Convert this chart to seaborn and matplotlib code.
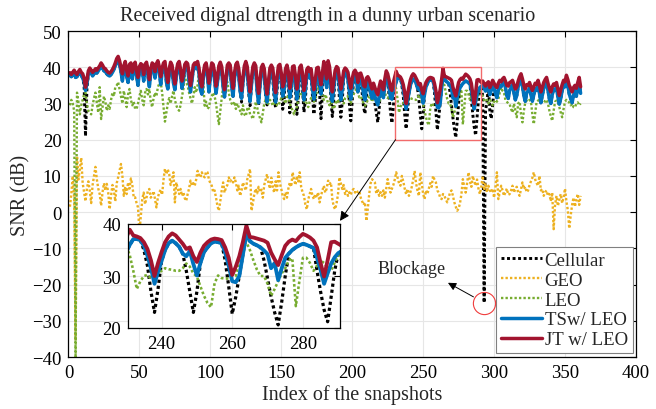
import numpy as np
import pandas as pd
import matplotlib
matplotlib.use("Agg")
import matplotlib.pyplot as plt
import seaborn as sns

# ---------------- data (snapshot index 1..361) ----------------
jt_leo = [
    38.5, 38.0, 38.6, 39.2, 38.4, 38.0, 38.8, 39.4, 38.6, 38.2,
    37.0, 34.5, 36.5, 39.0, 39.8, 39.2, 38.6, 39.0, 39.6, 39.2,
    39.8, 40.4, 41.2, 40.6, 39.8, 39.6, 39.0, 38.6, 38.4, 38.8,
    39.4, 40.2, 41.2, 42.4, 43.0, 41.8, 40.0, 38.2, 40.4, 41.6,
    39.2, 37.6, 40.8, 41.2, 38.6, 40.6, 41.4, 39.0, 37.2, 40.2,
    41.0, 40.6, 38.0, 40.8, 41.4, 39.4, 36.6, 39.6, 41.2, 40.8,
    38.8, 41.0, 41.8, 40.2, 37.4, 39.8, 41.2, 41.6, 38.0, 35.8,
    39.6, 41.4, 40.6, 37.8, 35.4, 38.8, 41.0, 41.6, 39.4, 36.2,
    38.0, 40.8, 41.4, 41.0, 38.2, 35.0, 37.6, 40.6, 41.2, 40.8,
    41.6, 39.8, 36.0, 34.6, 38.2, 40.6, 41.2, 39.0, 35.6, 38.8,
    41.2, 40.8, 38.6, 34.8, 37.2, 40.4, 41.4, 40.2, 36.8, 33.8,
    37.0, 40.6, 41.2, 40.6, 37.0, 34.2, 38.4, 40.8, 41.4, 39.6,
    35.8, 33.6, 37.4, 40.4, 41.6, 40.2, 36.4, 33.2, 37.0, 40.2,
    41.2, 40.4, 35.8, 32.8, 36.6, 40.0, 40.8, 39.6, 35.4, 32.6,
    36.2, 39.8, 40.6, 39.8, 35.8, 33.0, 37.2, 40.4, 40.8, 38.4,
    34.6, 35.8, 39.6, 40.6, 38.8, 34.2, 36.4, 40.2, 40.4, 37.6,
    34.0, 36.8, 40.0, 40.6, 38.2, 33.6, 35.8, 39.4, 40.0, 38.8,
    39.6, 36.2, 33.8, 36.6, 39.8, 40.0, 37.8, 35.2, 38.4, 41.6,
    39.0, 36.8, 41.8, 40.2, 36.0, 33.2, 36.4, 39.2, 40.2, 39.8,
    37.0, 34.0, 36.2, 39.0, 39.8, 39.4, 38.6, 36.0, 34.2, 36.8,
    38.6, 39.2, 38.4, 35.8, 38.2, 38.4, 37.2, 35.0, 34.6, 37.0,
    37.4, 36.6, 35.2, 34.0, 35.6, 34.4, 33.2, 32.4, 34.6, 36.2,
    35.2, 33.8, 36.8, 39.0, 38.2, 36.4, 34.2, 33.6, 35.8, 37.4,
    38.9, 37.8, 37.6, 37.3, 36.5, 35.2, 33.0, 30.0, 32.5, 34.6,
    36.5, 37.6, 38.2, 37.8, 37.0, 36.2, 35.2, 35.5, 33.8, 32.7,
    34.5, 35.8, 36.5, 37.0, 37.2, 37.1, 36.9, 35.5, 33.5, 30.2,
    31.8, 33.8, 36.5, 39.7, 37.5, 37.4, 37.2, 37.0, 36.8, 36.4,
    34.5, 33.2, 32.1, 34.0, 35.8, 36.6, 37.0, 36.7, 37.5, 38.1,
    37.8, 37.4, 36.8, 35.5, 32.5, 29.9, 33.0, 36.5, 36.6, 36.2,
    35.8, 36.2, 35.4, 34.8, 35.6, 36.0, 34.4, 35.2, 36.4, 35.6,
    34.8, 34.4, 35.6, 36.4, 36.0, 36.8, 37.2, 36.2, 35.0, 34.8,
    35.8, 36.0, 36.4, 35.2, 34.0, 34.6, 36.2, 37.4, 38.2, 36.8,
    35.0, 34.0, 35.2, 35.0, 35.8, 34.6, 33.6, 34.6, 35.6, 35.2,
    36.4, 35.0, 33.2, 34.4, 35.8, 36.6, 37.2, 35.6, 34.2, 33.2,
    34.6, 35.4, 35.0, 35.8, 34.0, 32.2, 33.8, 35.2, 36.4, 36.0,
    37.8, 36.6, 35.0, 34.2, 33.2, 34.4, 35.0, 34.2, 35.8, 37.2, 34.6,
]

ts_leo = [
    37.8, 37.4, 38.0, 38.4, 37.2, 37.4, 38.2, 38.6, 37.8, 37.0,
    36.0, 33.6, 35.4, 38.2, 39.0, 38.4, 37.6, 38.2, 38.8, 38.4,
    39.0, 39.6, 40.2, 39.8, 39.0, 38.8, 38.2, 37.8, 37.6, 38.0,
    38.6, 39.4, 40.4, 41.4, 42.0, 40.8, 38.8, 36.2, 39.2, 40.6,
    37.6, 35.8, 39.8, 40.2, 36.8, 39.4, 40.4, 37.6, 35.0, 39.0,
    40.0, 39.4, 36.2, 39.8, 40.4, 37.8, 34.6, 38.4, 40.2, 39.6,
    37.0, 39.8, 40.8, 38.8, 35.2, 38.6, 40.2, 40.4, 36.0, 34.0,
    38.2, 40.4, 39.4, 35.6, 33.8, 37.4, 40.0, 40.6, 37.8, 34.2,
    36.6, 39.8, 40.4, 39.8, 36.2, 33.2, 36.2, 39.4, 40.2, 39.6,
    40.6, 38.2, 33.8, 32.6, 36.8, 39.6, 40.2, 37.4, 33.2, 37.2,
    40.2, 39.6, 36.4, 32.8, 35.8, 39.4, 40.4, 38.8, 34.6, 31.8,
    35.6, 39.4, 40.2, 39.2, 34.8, 32.0, 36.8, 39.8, 40.2, 37.6,
    33.4, 31.4, 35.8, 39.2, 40.4, 38.6, 34.0, 30.6, 35.2, 39.0,
    40.0, 38.8, 33.2, 30.2, 34.8, 38.8, 39.6, 37.8, 33.0, 30.4,
    34.4, 38.6, 39.4, 38.2, 33.4, 30.4, 35.4, 39.0, 39.6, 36.6,
    32.0, 33.8, 38.2, 39.4, 37.0, 31.6, 34.4, 38.8, 39.2, 35.6,
    31.2, 34.6, 38.6, 39.4, 36.4, 31.0, 33.8, 38.0, 38.8, 37.0,
    38.2, 34.0, 31.2, 34.6, 38.4, 38.8, 35.8, 32.6, 36.6, 40.2,
    37.2, 34.4, 40.4, 38.6, 33.6, 30.6, 34.2, 37.8, 39.0, 38.2,
    34.6, 31.0, 33.8, 37.6, 38.6, 38.0, 36.6, 33.4, 31.2, 34.6,
    37.0, 38.0, 36.6, 33.2, 36.4, 37.0, 35.4, 32.4, 31.0, 34.6,
    35.8, 34.6, 32.8, 31.4, 33.4, 32.0, 30.6, 29.6, 31.8, 34.6,
    33.0, 31.6, 35.0, 37.8, 37.0, 34.2, 31.6, 31.2, 33.8, 34.6,
    36.0, 37.1, 37.1, 36.9, 35.8, 33.9, 31.5, 28.5, 30.8, 32.9,
    35.0, 36.3, 36.8, 36.3, 35.6, 34.3, 33.8, 34.8, 32.3, 30.1,
    32.5, 34.6, 35.5, 36.3, 36.6, 36.5, 36.3, 34.5, 32.0, 29.0,
    28.8, 30.0, 34.0, 38.1, 36.7, 36.2, 35.9, 35.5, 34.9, 34.2,
    31.5, 32.5, 29.2, 31.5, 33.5, 34.3, 35.0, 35.5, 35.9, 36.2,
    36.0, 35.7, 35.4, 33.5, 31.2, 28.5, 30.5, 32.4, 33.6, 34.4,
    34.8, 35.0, 34.2, 33.4, 34.0, 34.8, 32.4, 33.6, 35.2, 34.2,
    32.8, 31.6, 33.8, 35.0, 34.6, 35.6, 36.0, 34.4, 32.2, 31.4,
    33.6, 34.4, 35.2, 33.0, 31.0, 32.2, 34.6, 36.0, 36.8, 34.8,
    32.2, 30.6, 33.0, 33.4, 34.4, 32.4, 30.6, 32.4, 34.0, 33.6,
    35.0, 32.8, 30.2, 32.2, 34.2, 35.2, 35.8, 33.6, 31.2, 30.0,
    32.4, 34.0, 33.6, 34.4, 31.8, 29.8, 31.4, 33.6, 35.0, 34.6,
    36.4, 35.0, 32.6, 31.4, 30.2, 32.2, 33.6, 32.0, 34.4, 35.8, 32.8,
]

cellular = [
    37.8, 37.4, 38.0, 38.4, 37.2, 37.4, 38.2, 38.6, 37.8, 37.0,
    35.0, 21.0, 34.0, 38.2, 39.0, 38.4, 37.6, 38.2, 38.8, 38.4,
    39.0, 39.6, 40.2, 39.8, 39.0, 38.8, 38.2, 37.8, 37.6, 38.0,
    38.6, 39.4, 40.4, 41.4, 42.0, 40.8, 38.8, 36.2, 39.2, 40.6,
    37.6, 35.8, 39.8, 40.2, 36.8, 39.4, 40.4, 37.6, 35.0, 39.0,
    40.0, 39.4, 36.2, 39.8, 40.4, 37.8, 34.6, 38.4, 40.2, 39.6,
    37.0, 39.8, 40.8, 38.8, 35.2, 38.6, 40.2, 40.4, 36.0, 34.0,
    38.2, 40.4, 39.4, 35.6, 33.8, 37.4, 40.0, 40.6, 37.8, 34.2,
    36.6, 39.8, 40.4, 39.8, 36.2, 33.2, 36.2, 39.4, 40.2, 39.6,
    40.6, 38.2, 33.8, 32.6, 36.8, 39.6, 40.2, 37.4, 33.2, 37.2,
    40.2, 39.6, 36.4, 32.8, 35.8, 39.4, 40.4, 38.8, 34.6, 31.8,
    35.6, 39.4, 40.2, 39.2, 34.8, 32.0, 36.8, 39.8, 40.2, 37.6,
    33.4, 30.4, 35.8, 39.2, 40.4, 38.6, 33.0, 29.4, 35.2, 39.0,
    40.0, 38.8, 33.0, 29.6, 34.8, 38.8, 39.6, 37.8, 32.0, 29.6,
    34.4, 38.6, 39.4, 37.0, 31.4, 28.8, 33.4, 39.0, 39.6, 35.0,
    28.4, 31.0, 38.2, 39.4, 35.0, 27.4, 32.0, 38.8, 39.2, 34.0,
    27.0, 31.5, 38.6, 39.4, 34.0, 27.6, 31.0, 38.0, 38.8, 37.0,
    38.2, 32.0, 27.0, 31.0, 38.4, 38.8, 33.0, 25.8, 33.0, 40.2,
    37.2, 34.4, 40.4, 38.6, 31.0, 26.4, 31.0, 37.8, 39.0, 38.2,
    31.0, 26.2, 30.5, 37.6, 38.6, 38.0, 36.6, 30.0, 25.2, 30.5,
    37.0, 38.0, 36.6, 33.2, 36.4, 37.0, 33.0, 29.0, 27.2, 31.5,
    35.8, 34.6, 32.8, 31.4, 33.4, 30.0, 27.5, 24.8, 28.5, 34.6,
    33.0, 31.6, 35.0, 37.8, 37.0, 32.0, 27.6, 24.6, 29.0, 34.6,
    36.0, 37.1, 37.1, 36.9, 35.0, 32.0, 27.0, 23.0, 27.5, 32.9,
    35.0, 36.3, 36.8, 36.3, 35.6, 34.3, 31.0, 27.0, 23.0, 27.0,
    32.5, 34.6, 35.5, 36.3, 36.6, 36.5, 36.3, 33.0, 28.0, 22.7,
    26.0, 30.0, 34.0, 38.1, 36.7, 36.2, 35.9, 35.5, 33.0, 29.5,
    26.0, 23.0, 20.6, 25.0, 30.0, 34.3, 35.0, 35.5, 35.9, 36.2,
    36.0, 35.7, 35.4, 31.0, 27.0, 23.5, 21.2, 26.0, 31.0, 34.4,
    34.8, 32.0, -25.0, 28.0, 30.5, 34.8, 28.0, 25.8, 29.5, 34.2,
    32.8, 31.6, 33.8, 35.0, 34.6, 35.6, 36.0, 34.4, 32.2, 31.4,
    33.6, 34.4, 35.2, 33.0, 31.0, 32.2, 34.6, 36.0, 36.8, 34.8,
    32.2, 30.6, 33.0, 33.4, 34.4, 32.4, 30.6, 32.4, 34.0, 33.6,
    35.0, 32.8, 30.2, 32.2, 34.2, 35.2, 35.8, 33.6, 31.2, 30.0,
    32.4, 34.0, 33.6, 34.4, 31.8, 29.8, 31.4, 33.6, 35.0, 34.6,
    36.4, 35.0, 32.6, 31.4, 30.2, 32.2, 33.6, 32.0, 34.4, 35.8, 32.8,
]

geo = [
    1.5, 5.0, 10.0, 4.0, -35.5, 15.5, 9.0, 12.0, 15.0, 8.0,
    5.5, 3.0, 6.5, 8.5, 6.0, 2.5, 7.5, 10.0, 12.5, 9.0,
    6.5, 5.0, 1.8, 5.5, 8.0, 6.0, 7.8, 5.4, 0.8, 4.5,
    7.5, 6.0, 3.0, 8.0, 9.6, 11.5, 13.3, 10.0, 4.5, 7.0,
    5.0, 8.2, 6.5, 9.3, 7.5, 4.0, 4.1, 2.5, 1.3, -5.6,
    -1.0, 3.5, 5.4, 2.2, 4.0, 6.0, 6.4, 4.0, 4.5, 5.8,
    3.5, 1.3, 4.0, 5.5, 6.2, 4.8, 9.0, 12.0, 10.5, 11.8,
    10.5, 7.5, 9.0, 11.0, 2.7, 8.2, 6.5, 5.0, 6.4, 4.5,
    5.5, 3.8, 3.1, 5.0, 6.5, 8.7, 7.3, 8.0, 7.3, 9.0,
    11.4, 10.2, 9.6, 11.0, 10.0, 9.6, 11.2, 11.0, 9.0, 8.0,
    7.3, 5.5, 6.0, 4.0, 1.7, 0.4, 3.0, 6.0, 8.2, 5.4,
    6.8, 7.5, 9.6, 8.5, 9.0, 8.2, 9.6, 8.2, 6.0, 7.3,
    4.5, 6.0, 8.2, 7.0, 6.0, 9.0, 10.5, 11.9, 0.4, 2.5,
    5.0, 6.5, 5.2, 7.0, 5.5, 6.2, 4.0, 7.5, 9.0, 10.5,
    8.0, 6.5, 9.5, 7.0, 5.4, 8.5, 6.0, 11.0, 8.0, 6.4,
    4.5, 3.6, 5.5, 4.0, 6.5, 8.2, 7.0, 11.0, 9.0, 7.5,
    10.0, 8.5, 11.0, 7.0, 5.5, 4.5, 2.0, 0.8, 3.5, 5.0,
    6.4, 4.5, 3.6, 5.0, 4.0, 5.5, 2.7, 4.5, 6.0, 7.3,
    5.4, 6.5, 8.7, 7.8, 8.2, 3.6, 1.5, 0.8, 2.5, 5.0,
    9.6, 8.0, 6.4, 7.5, 5.0, 5.9, 4.5, 5.5, 4.8, 6.0,
    6.4, 5.4, 6.0, 5.5, 5.8, 4.0, 3.0, 2.0, 2.7, -2.4,
    1.0, 5.0, 8.0, 9.1, 8.6, 8.2, 5.0, 6.4, 4.5, 5.5,
    4.5, 6.0, 4.0, 6.5, 9.1, 7.0, 5.4, 6.5, 7.5, 9.0,
    11.0, 9.5, 8.0, 7.3, 10.0, 8.5, 6.5, 5.0, 6.4, 4.5,
    5.5, 7.0, 9.0, 11.4, 8.0, 6.0, 4.5, 11.0, 8.0, 5.0,
    3.6, 6.0, 5.0, 6.5, 8.0, 7.0, 10.0, 9.0, 8.2, 6.0,
    5.4, 4.0, 3.6, 5.0, 4.5, 3.5, 2.7, 4.0, 5.5, 6.0,
    4.5, 2.7, 1.5, 0.4, 1.0, 2.5, 5.0, 9.1, 7.0, 5.4,
    8.0, 11.0, 8.5, 7.0, 10.0, 8.5, 7.3, 9.0, 6.5, 5.0,
    7.0, 10.0, 6.0, 8.0, 5.5, 7.3, 6.0, 5.4, 6.5, 4.0,
    7.0, 11.0, 3.6, 5.5, 7.3, 6.0, 4.5, 5.5, 6.5, 4.8,
    5.0, 6.0, 7.3, 5.4, 6.5, 7.0, 5.4, 4.5, 6.4, 8.2,
    6.4, 7.0, 5.5, 6.0, 7.5, 8.5, 9.5, 11.0, 9.0, 8.0,
    7.3, 10.0, 6.0, 6.4, 4.5, 5.5, 6.0, 4.5, 5.0, 3.0,
    5.4, -4.7, 2.0, 4.5, 1.7, 3.5, 5.0, 2.5, 4.0, 6.5,
    3.0, 0.5, -4.5, -1.0, 2.0, 4.0, 1.5, 3.5, 5.0, 2.0, 4.5,
]

leo = [
    29.5, 31.0, 30.0, 28.0, -41.0, 33.0, 30.5, 27.0, 29.5, 31.0,
    32.5, 33.0, 30.0, 28.0, 27.5, 27.0, 29.5, 31.5, 33.0, 30.0,
    27.5, 34.5, 25.7, 29.0, 32.0, 30.5, 28.0, 29.5, 28.5, 31.0,
    33.0, 32.0, 34.5, 35.0, 35.9, 34.0, 32.0, 30.0, 33.5, 31.5,
    29.0, 32.5, 34.0, 31.0, 29.5, 30.5, 28.5, 28.5, 30.0, 32.0,
    33.5, 31.0, 29.5, 33.0, 34.0, 32.5, 34.0, 30.5, 29.0, 31.5,
    33.0, 32.0, 34.5, 35.5, 36.0, 33.0, 29.0, 25.0, 27.5, 30.0,
    31.5, 30.0, 32.0, 33.5, 31.0, 29.5, 28.5, 28.0, 29.5, 32.0,
    34.0, 37.7, 36.0, 34.9, 33.0, 31.5, 30.0, 32.0, 34.5, 33.0,
    35.0, 38.6, 37.0, 38.0, 35.8, 29.4, 30.5, 28.5, 29.0, 31.0,
    32.0, 33.0, 32.0, 30.0, 27.0, 24.3, 28.0, 31.5, 34.5, 36.0,
    35.0, 36.0, 33.0, 31.0, 30.0, 29.5, 30.5, 28.5, 30.0, 29.0,
    28.0, 27.0, 29.5, 27.0, 26.5, 28.5, 29.0, 27.0, 26.5, 25.7,
    28.0, 30.5, 29.0, 27.0, 26.0, 24.8, 27.5, 30.0, 31.0, 29.5,
    30.0, 31.0, 30.5, 29.4, 30.0, 31.0, 29.5, 29.4, 30.5, 31.5,
    32.0, 31.0, 30.0, 31.5, 32.5, 30.0, 29.0, 28.0, 27.0, 28.5,
    29.0, 31.0, 33.0, 33.0, 32.0, 30.5, 31.0, 30.0, 29.0, 30.5,
    31.5, 32.0, 30.5, 31.0, 33.0, 34.0, 35.0, 33.0, 32.0, 31.0,
    32.5, 31.5, 30.0, 29.5, 31.0, 29.0, 28.5, 29.5, 31.0, 30.0,
    31.5, 32.0, 31.0, 30.0, 31.5, 32.0, 32.0, 31.0, 30.0, 31.5,
    32.5, 33.5, 34.0, 33.0, 31.7, 32.0, 31.0, 30.0, 29.4, 30.0,
    31.0, 32.0, 31.5, 30.5, 32.0, 33.0, 31.0, 29.4, 30.0, 31.5,
    33.0, 34.0, 33.0, 32.0, 31.5, 32.0, 33.0, 34.0, 35.0, 35.8,
    34.0, 31.0, 27.5, 29.0, 30.0, 30.2, 29.5, 29.8, 30.5, 31.0,
    31.5, 31.3, 31.2, 31.0, 31.0, 31.5, 32.4, 31.8, 30.5, 29.9,
    28.0, 26.2, 24.8, 24.0, 28.6, 30.1, 29.6, 29.5, 29.5, 29.8,
    30.0, 33.0, 36.0, 36.5, 35.0, 33.0, 31.2, 30.0, 30.0, 28.5,
    26.2, 27.5, 29.0, 30.5, 31.5, 33.0, 33.4, 24.2, 29.0, 33.5,
    33.5, 32.5, 31.0, 32.0, 33.0, 32.5, 31.5, 31.0, 32.6, 34.0,
    33.0, 32.0, 31.0, 30.5, 31.0, 30.0, 31.0, 30.5, 29.5, 30.5,
    31.0, 30.5, 31.2, 33.0, 34.4, 33.5, 33.0, 31.0, 30.5, 30.0,
    29.8, 28.5, 27.5, 30.0, 28.0, 26.2, 30.0, 30.5, 27.0, 24.8,
    28.0, 30.3, 30.8, 30.5, 31.0, 30.5, 27.0, 24.3, 27.5, 30.5,
    30.8, 31.0, 30.5, 31.0, 30.8, 30.5, 31.0, 30.0, 28.0, 26.5,
    25.2, 28.0, 30.5, 30.8, 30.3, 29.0, 27.5, 26.2, 28.5, 30.5,
    31.0, 30.5, 30.3, 29.5, 30.0, 29.0, 28.9, 30.0, 30.3, 29.5, 30.0,
]

series_names = ["Cellular", "GEO", "LEO", "TSw/ LEO", "JT w/ LEO"]
x_ticks = [0, 50, 100, 150, 200, 250, 300, 350, 400]
y_ticks = [-40, -30, -20, -10, 0, 10, 20, 30, 40, 50]
inset_xticks = [240, 260, 280]
inset_yticks = [20, 30, 40]
zoom_x = (230.5, 290.5)
zoom_y = (20, 40)
title_text = "Received dignal dtrength in a dunny urban scenario"

snap = np.arange(1, len(jt_leo) + 1)
df = pd.DataFrame({"snap": snap, "Cellular": cellular, "GEO": geo, "LEO": leo,
                   "TSw/ LEO": ts_leo, "JT w/ LEO": jt_leo})

# ---------------- style ----------------
sns.set_theme(style="white")
plt.rcParams["font.family"] = ["Liberation Serif", "DejaVu Serif"]
plt.rcParams["axes.unicode_minus"] = True

colors = {"Cellular": "#000000", "GEO": "#EDB120", "LEO": "#77AC30",
          "TSw/ LEO": "#0072BD", "JT w/ LEO": "#A2142F"}
styles = {"Cellular": dict(lw=2.1, ls=(0, (1, 0.9))),
          "GEO": dict(lw=1.7, ls=(0, (1, 0.9))),
          "LEO": dict(lw=1.7, ls=(0, (1, 0.9))),
          "TSw/ LEO": dict(lw=2.5, ls="-"),
          "JT w/ LEO": dict(lw=2.5, ls="-")}

fig = plt.figure(figsize=(6.56, 4.10), dpi=100)
ax = fig.add_axes([0.1044, 0.1268, 0.865, 0.795])


def draw(axis, lwscale=1.0):
    for name in series_names:
        st = styles[name]
        sns.lineplot(data=df, x="snap", y=name, ax=axis, color=colors[name],
                     linewidth=st["lw"] * lwscale, linestyle=st["ls"],
                     label=name, legend=False, estimator=None, sort=False)


def style_axis(axis, fs):
    axis.grid(True, color="#e6e6e6", linewidth=0.8)
    axis.set_axisbelow(True)
    for sp in axis.spines.values():
        sp.set_visible(True)
        sp.set_color("black")
        sp.set_linewidth(0.9)
    axis.tick_params(direction="in", length=4, width=0.8, top=True, right=True,
                     labelsize=fs, colors="black", pad=5)


draw(ax)
ax.set_xlim(0, 400)
ax.set_ylim(-40, 50)
ax.set_xticks(x_ticks)
ax.set_yticks(y_ticks)
style_axis(ax, 13.5)
ax.set_xlabel("Index of the snapshots", fontsize=14.5, labelpad=2)
ax.set_ylabel("SNR (dB)", fontsize=14.5, labelpad=1)
fig.text(328 / 656, 1 - 17 / 410, title_text, fontsize=14.5, ha="center", va="center")

# zoom rectangle
ax.add_patch(plt.Rectangle((zoom_x[0], zoom_y[0]), zoom_x[1] - zoom_x[0], zoom_y[1] - zoom_y[0],
                           fill=False, edgecolor="#f26b6b", linewidth=1.0, zorder=5))

# blockage marker derived from the data
bi = int(np.argmin(cellular))
bx, by = snap[bi], cellular[bi]
ax.plot([bx], [by], marker="o", ms=16, mfc="none", mec="#f03c3c", mew=0.8, zorder=6)
ax.annotate("", xy=(bx - 25.5, by + 5.5), xytext=(bx - 7.5, by + 1.6),
            arrowprops=dict(arrowstyle="-|>", color="black", lw=0.7,
                            mutation_scale=12, shrinkA=0, shrinkB=0))
ax.text(bx - 51, by + 9.5, "Blockage", fontsize=13, ha="center", va="center")

# legend
handles, labels = ax.get_legend_handles_labels()
leg = ax.legend(handles, labels, loc="lower right", bbox_to_anchor=(0.994, 0.012),
                fontsize=13.5, frameon=True, fancybox=False, framealpha=1,
                edgecolor="#808080", handlelength=2.2, handletextpad=0.15,
                labelspacing=0.15, borderpad=0.25, borderaxespad=0.0)
leg.get_frame().set_linewidth(0.8)

# inset
axin = fig.add_axes([128 / 656, 81 / 410, 212 / 656, 104 / 410])
draw(axin, lwscale=1.1)
axin.set_xlim(*zoom_x)
axin.set_ylim(*zoom_y)
axin.set_xticks(inset_xticks)
axin.set_yticks(inset_yticks)
style_axis(axin, 13.5)
axin.set_xlabel("")
axin.set_ylabel("")
if axin.get_legend():
    axin.get_legend().remove()
axin.set_facecolor("white")

# arrow from zoom rectangle to inset
ax.annotate("", xy=(1.0, 1.03), xycoords=axin.transAxes,
            xytext=(zoom_x[0], zoom_y[0]), textcoords="data",
            arrowprops=dict(arrowstyle="-|>", color="black", lw=0.7,
                            mutation_scale=14, shrinkA=0, shrinkB=0), zorder=7)

fig.savefig("out.png", dpi=100)
